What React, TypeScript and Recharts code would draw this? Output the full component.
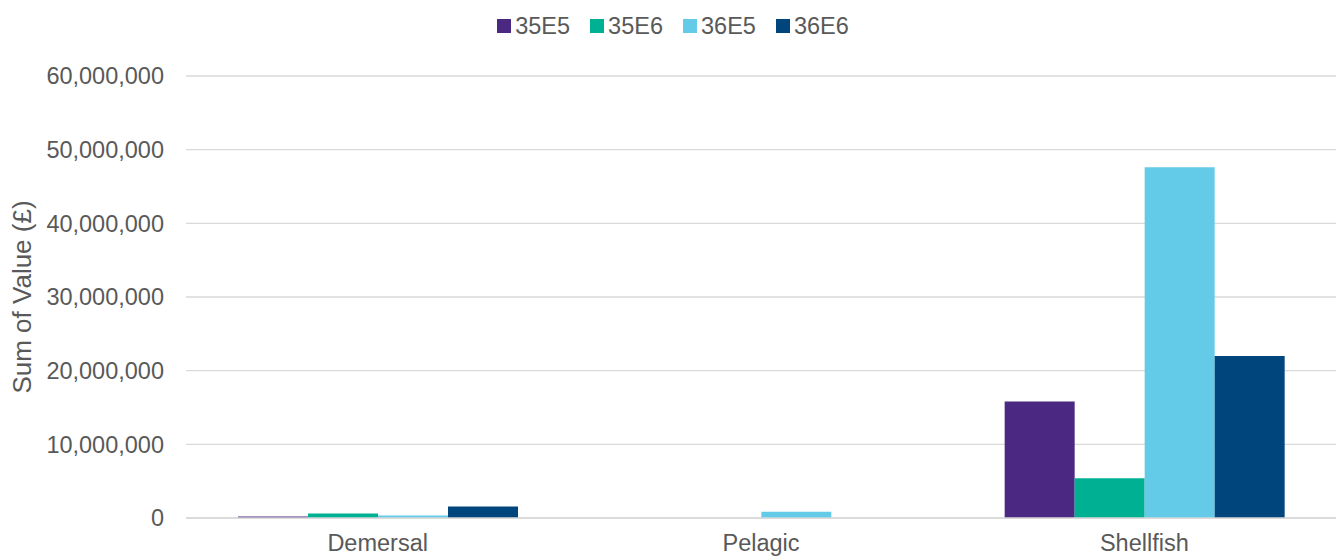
import React from 'react';
import { BarChart, Bar, XAxis, YAxis, CartesianGrid } from 'recharts';

const categories = ['Demersal', 'Pelagic', 'Shellfish'];
const seriesNames = ['35E5', '35E6', '36E5', '36E6'];
const values35E5 = [200000, 0, 15800000];
const values35E6 = [600000, 0, 5400000];
const values36E5 = [350000, 850000, 47600000];
const values36E6 = [1550000, 0, 22000000];
const yTicks = [0, 10000000, 20000000, 30000000, 40000000, 50000000, 60000000];
const colors = ['#4b2882', '#00b092', '#63cbe8', '#00457c'];

const seriesValues = [values35E5, values35E6, values36E5, values36E6];
const data = categories.map((c, i) => {
  const row: Record<string, string | number> = { category: c };
  seriesNames.forEach((s, j) => {
    row[s] = seriesValues[j][i];
  });
  return row;
});

const FONT = '"Liberation Sans", Arial, sans-serif';
const TEXT = '#595959';
const FS = 23.5;

const fmt = (v: number) => v.toLocaleString('en-US');

export default function App() {
  return (
    <div style={{ position: 'absolute', left: 0, top: 0, width: 1336, height: 557, background: '#fff', fontFamily: FONT }}>
      <div
        style={{
          position: 'absolute',
          top: 10,
          left: 0,
          width: 1336,
          paddingLeft: 10,
          boxSizing: 'border-box',
          display: 'flex',
          justifyContent: 'center',
          alignItems: 'center',
          height: 32,
          fontSize: FS,
          color: TEXT,
        }}
      >
        {seriesNames.map((s, i) => (
          <div key={s} style={{ display: 'flex', alignItems: 'center', marginRight: i < seriesNames.length - 1 ? 20 : 0 }}>
            <div style={{ width: 14, height: 14, background: colors[i], marginRight: 4 }} />
            <span style={{ lineHeight: '32px' }}>{s}</span>
          </div>
        ))}
      </div>
      <BarChart
        width={1336}
        height={557}
        data={data}
        margin={{ top: 76, right: 0, bottom: 0, left: 0 }}
        barCategoryGap={52}
        barGap={0}
      >
        <CartesianGrid vertical={false} stroke="#d9d9d9" strokeWidth={1.3} />
        <XAxis
          dataKey="category"
          height={39}
          tickLine={false}
          tickSize={0}
          tickMargin={16}
          axisLine={{ stroke: '#d9d9d9', strokeWidth: 1.5 }}
          tick={{ fill: TEXT, fontSize: FS, fontFamily: FONT }}
          interval={0}
        />
        <YAxis
          width={186}
          domain={[0, 60000000]}
          ticks={yTicks}
          tickFormatter={fmt}
          tickLine={false}
          axisLine={false}
          tickSize={0}
          tickMargin={22}
          tick={{ fill: TEXT, fontSize: FS, fontFamily: FONT }}
          label={{
            value: 'Sum of Value (£)',
            angle: -90,
            position: 'insideLeft',
            offset: 22,
            style: { textAnchor: 'middle', fill: TEXT, fontSize: 26, fontFamily: FONT },
          }}
        />
        {seriesNames.map((s, i) => (
          <Bar key={s} dataKey={s} fill={colors[i]} isAnimationActive={false} />
        ))}
      </BarChart>
    </div>
  );
}
